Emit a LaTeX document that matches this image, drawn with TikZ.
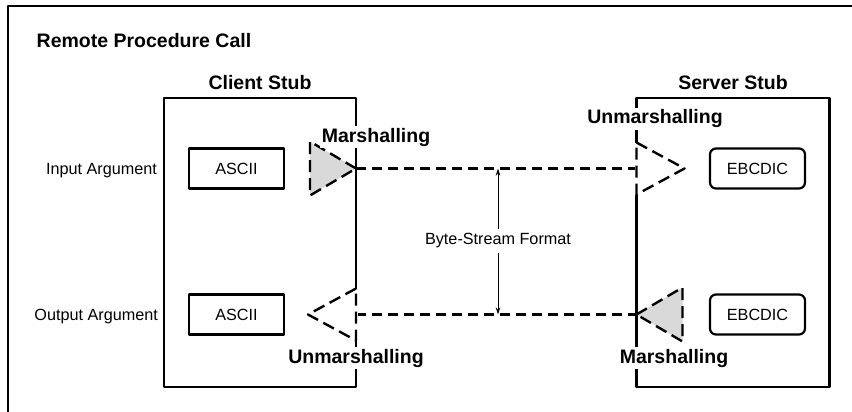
\documentclass[tikz,border=0pt]{standalone}
\usepackage{fontspec}
\setmainfont{Liberation Sans}
\usetikzlibrary{positioning,arrows.meta}
\tikzset{
  stubbox/.style={draw,line width=2.4pt,minimum height=289pt,inner sep=0pt},
  codebox/.style={draw,line width=2.2pt,minimum width=95pt,minimum height=40pt,inner sep=0pt,font=\fontsize{16.2}{19}\selectfont},
  argtext/.style={font=\fontsize{16.2}{19}\selectfont,inner sep=1pt},
  headtext/.style={font=\fontsize{19.5}{23}\selectfont\bfseries,inner sep=1.5pt},
  steplabel/.style={headtext,fill=white},
  stream/.style={line width=2.2pt,dash pattern=on 10pt off 6pt},
  marshtri/.style={line width=2.4pt,dash pattern=on 12pt off 6pt,fill=gray!30},
  unmarshtri/.style={line width=2.4pt,dash pattern=on 12pt off 6pt,fill=white}
}
\begin{document}
\begin{tikzpicture}[x=1pt,y=-1pt,line join=round,>={Stealth[length=7pt,width=4.5pt]}]
\useasboundingbox (0,0) rectangle (852,412);
% frame
\draw[line width=2.4pt] (8,412) |- (852,6);
\node[headtext,anchor=base west] (rpc) at (35,48) {Remote Procedure Call};

% stubs
\node[stubbox,minimum width=192pt] (client) at (260,242.5) {};
\node[stubbox,minimum width=193pt] (server) at (733,242.5) {};
\node[headtext,anchor=base] (clientlbl) at (260,90) {Client Stub};
\node[headtext,anchor=base] (serverlbl) at (733,90) {Server Stub};

% data formats
\node[codebox] (asciiIn) at (236.5,168.5) {ASCII};
\node[codebox] (asciiOut) at (236.5,314.5) {ASCII};
\node[codebox,rounded corners=6pt] (ebcIn) at (757.5,168.5) {EBCDIC};
\node[codebox,rounded corners=6pt] (ebcOut) at (757.5,314.5) {EBCDIC};
\node[argtext,anchor=base east] (inarg) at (158,174.5) {Input Argument};
\node[argtext,anchor=base east] (outarg) at (159,320.5) {Output Argument};

% triangle tips on the stub edges
\coordinate (mTop) at (356,168.5);
\coordinate (uTop) at (636.5,168.5);
\coordinate (mBot) at (636.5,314.5);
\coordinate (uBot) at (356,314.5);

% streams
\draw[stream] (mTop) -- (uTop);
\draw[stream] (uBot) -- (mBot);

% marshalling / unmarshalling
\draw[marshtri] (mTop) -- ++(-46,-27) -- ++(0,54) -- cycle;
\draw[marshtri] (mBot) -- ++(46,-27) -- ++(0,54) -- cycle;
\fill[white] (uTop) ++(-2,-26) rectangle ++(4,52);
\draw[unmarshtri] (uTop) ++(0,-26) -- ++(48,26) -- ++(-48,26) -- cycle;
\fill[white] (uBot) ++(-2,-26) rectangle ++(4,52);
\draw[unmarshtri] (uBot) ++(0,-26) -- ++(-48,26) -- ++(48,26) -- cycle;

\node[steplabel,anchor=base] (marshIn) at (376,142) {Marshalling};
\node[steplabel,anchor=base] (unmarshIn) at (655,124) {Unmarshalling};
\node[steplabel,anchor=base] (unmarshOut) at (356,363) {Unmarshalling};
\node[steplabel,anchor=base] (marshOut) at (674,363) {Marshalling};

% byte stream
\node[argtext,inner sep=4pt] (bsf) at (498,241) {Byte-Stream Format};
\draw[->,line width=0.9pt] (bsf.north) -- (bsf.north |- mTop);
\draw[->,line width=0.9pt] (bsf.south) -- (bsf.south |- uBot);
\end{tikzpicture}
\end{document}
